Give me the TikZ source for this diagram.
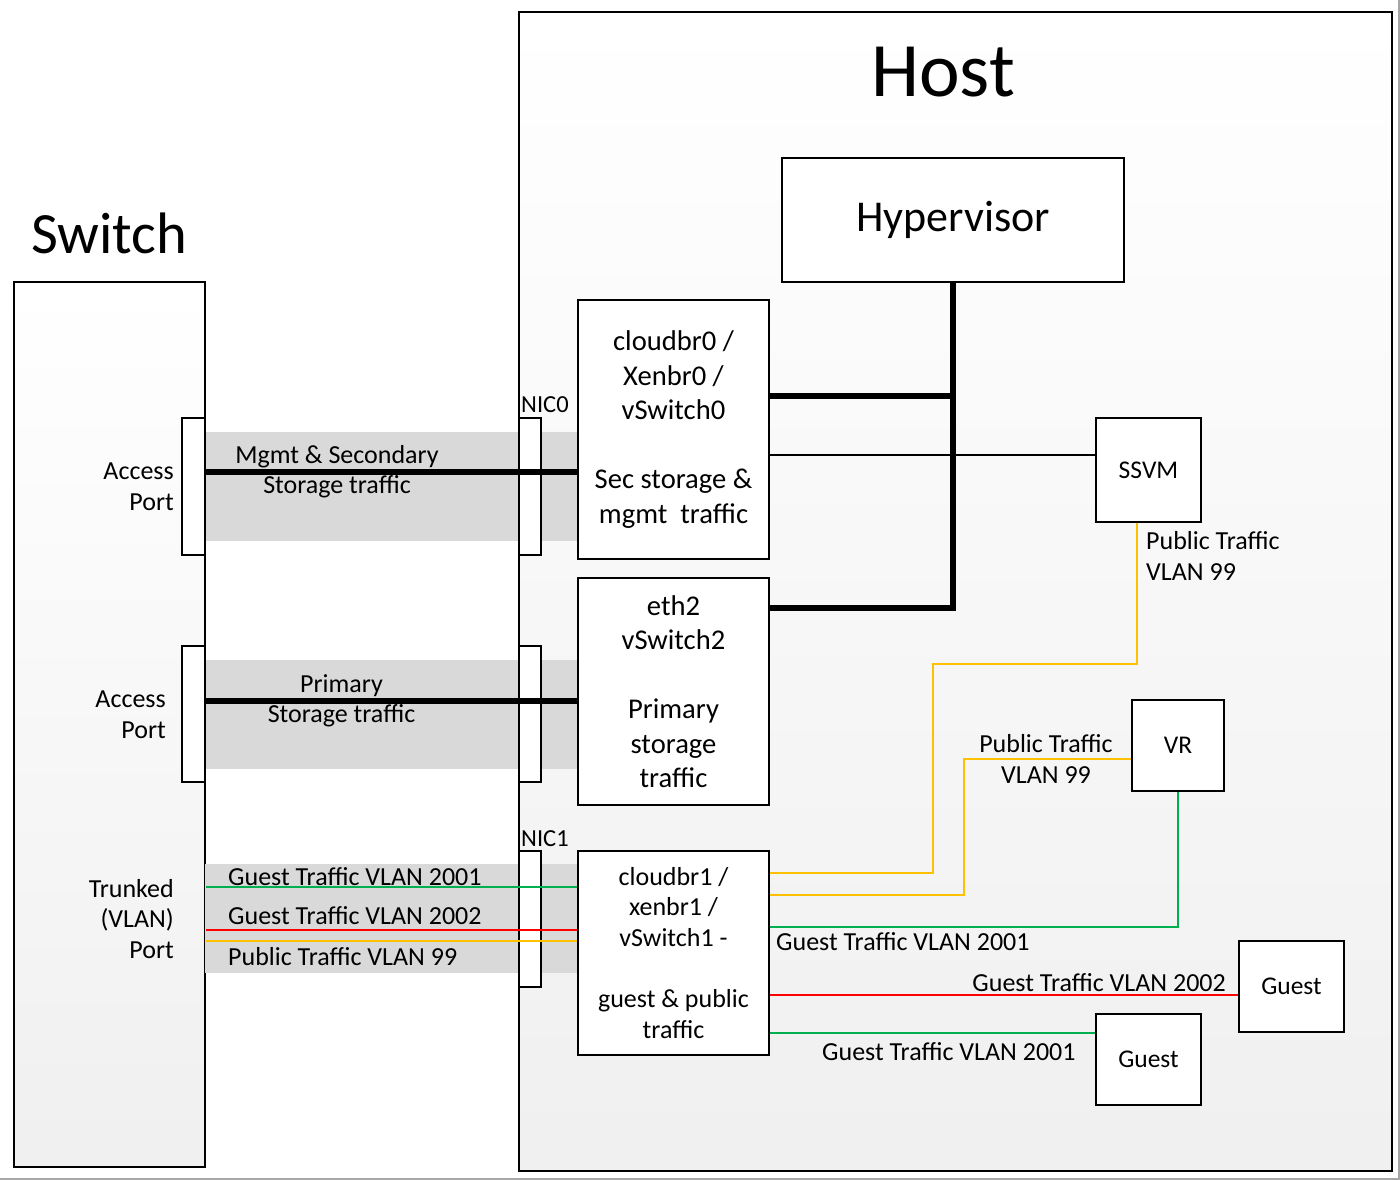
\documentclass[tikz,border=0pt]{standalone}
\usepackage{fontspec}
\setmainfont{Carlito}
\definecolor{bandgray}{HTML}{D9D9D9}
\definecolor{ylw}{HTML}{FFC000}
\definecolor{grn}{HTML}{00B050}
\definecolor{rd}{HTML}{FF0000}
\newcommand{\fsz}[2]{\fontsize{#1}{#2}\selectfont}
\begin{document}
\begin{tikzpicture}[x=1pt,y=-1pt,
  frame/.style={draw=black, line width=2pt, rectangle, inner sep=0pt, top color=white, bottom color=black!6},
  box/.style={draw=black, line width=2.4pt, fill=white, rectangle, inner sep=0pt, align=center},
  port/.style={draw=black, line width=2pt, fill=white, rectangle, inner sep=0pt, minimum width=22pt},
  bandbox/.style={fill=bandgray, rectangle, inner sep=0pt, minimum width=372pt, minimum height=109pt},
  lbl/.style={font=\fsz{26}{31}, inner sep=0pt},
  boxtxt/.style={font=\fsz{28.6}{34.5}},
  thickline/.style={line width=6.7pt, line join=miter},
  thinline/.style={line width=1.8pt},
  vlan/.style={line width=2.7pt}
]
\useasboundingbox (0,0) rectangle (1400,1180);
\fill[white] (0,0) rectangle (1400,1180);
\draw[gray!70, line width=2pt] (0,1179) -- (1399,1179) -- (1399,0);

% frames
\node[frame, minimum width=191pt, minimum height=885pt] (switch) at (109.5,724.5) {};
\node[frame, minimum width=873pt, minimum height=1159pt] (host) at (955.5,591.5) {};
\node[font=\fsz{58.5}{70}, inner sep=0pt, anchor=base] (switchT) at (109,253) {Switch};
\node[font=\fsz{77}{90}, inner sep=0pt, anchor=base] (hostT) at (943,97) {Host};

% bands
\node[bandbox] (band1) at (391,486.5) {};
\node[bandbox] (band2) at (391,714.5) {};
\node[bandbox] (band3) at (391,918.5) {};

% ports
\node[port, minimum width=23pt, minimum height=137pt] (ap1) at (193.5,486.5) {};
\node[port, minimum width=23pt, minimum height=136pt] (ap2) at (193.5,714) {};
\node[port, minimum height=137pt] (nic0) at (530,486.5) {};
\node[port, minimum height=136pt] (nicB) at (530,714) {};
\node[port, minimum height=136pt] (nic1) at (530,919) {};

% boxes
\node[box, font=\fsz{44}{50}, minimum width=342pt, minimum height=124pt] (hyp) at (953,220) {Hypervisor};
\node[box, boxtxt, minimum width=191pt, minimum height=259pt] (cb0) at (673.5,429.5)
  {cloudbr0 /\\Xenbr0 /\\vSwitch0\\\mbox{}\\Sec storage \&\\mgmt\ \ traffic};
\node[box, boxtxt, minimum width=191pt, minimum height=227pt] (eth2) at (673.5,691.5)
  {eth2\\vSwitch2\\\mbox{}\\Primary\\storage\\traffic};
\node[box, font=\fsz{26}{30.7}, minimum width=191pt, minimum height=204pt] (cb1) at (673.5,953)
  {cloudbr1 /\\xenbr1 /\\vSwitch1 -\\\mbox{}\\guest \& public\\traffic};
\node[box, font=\fsz{25.5}{30}, minimum width=105pt, minimum height=104pt] (ssvm) at (1148.5,470) {SSVM};
\node[box, font=\fsz{25.5}{30}, minimum width=92pt, minimum height=91pt] (vr) at (1178,745.5) {VR};
\node[box, font=\fsz{25.5}{30}, minimum width=105pt, minimum height=91pt] (guestA) at (1291.5,986.5) {Guest};
\node[box, font=\fsz{25.5}{30}, minimum width=105pt, minimum height=91pt] (guestB) at (1148.5,1059.5) {Guest};

% switch to host links
\draw[thickline] (ap1.east |- 0,472) -- (cb0.west |- 0,472);
\draw[thickline] (ap2.east |- 0,701) -- (eth2.west |- 0,701);
\draw[vlan, grn] (switch.east |- 0,887) -- (cb1.west |- 0,887);
\draw[vlan, rd] (switch.east |- 0,930) -- (cb1.west |- 0,930);
\draw[vlan, ylw] (switch.east |- 0,941) -- (cb1.west |- 0,941);

% hypervisor trunk
\draw[thickline] (cb0.east |- 0,396) -| (hyp.south);
\draw[thickline] (eth2.east |- 0,608) -| (hyp.south);

% SSVM
\draw[thinline] (cb0.east |- 0,455) -- (ssvm.west |- 0,455);
\draw[vlan, ylw] (1137,0 |- ssvm.south) -- (1137,664) -- (933,664) -- (933,873) -- (cb1.east |- 0,873);

% VR
\draw[vlan, ylw] (vr.west |- 0,759) -- (964,759) -- (964,895) -- (cb1.east |- 0,895);
\draw[vlan, grn] (vr.south) |- (cb1.east |- 0,927);

% guests
\draw[vlan, rd] (cb1.east |- 0,995) -- (guestA.west |- 0,995);
\draw[vlan, grn] (cb1.east |- 0,1033) -- (guestB.west |- 0,1033);

% labels
\node[lbl, align=right, anchor=east] (lap1) at (174,486.5) {Access\\Port};
\node[lbl, align=right, anchor=east] (lap2) at (166,715) {Access\\Port};
\node[lbl, align=right, anchor=east, font=\fsz{26}{30.5}] (ltr) at (174,919) {Trunked\\(VLAN)\\Port};
\node[lbl, align=center, font=\fsz{26}{30.3}] (lmg) at (337,471.5) {Mgmt \& Secondary\\Storage traffic};
\node[lbl, align=center, font=\fsz{26}{30}] (lpr) at (341.5,701) {Primary\\Storage traffic};
\node[lbl, anchor=base west] (lg1) at (228,885) {Guest Traffic VLAN 2001};
\node[lbl, anchor=base west] (lg2) at (228,924) {Guest Traffic VLAN 2002};
\node[lbl, anchor=base west] (lpub) at (228,965.7) {Public Traffic VLAN 99};
\node[lbl, anchor=base west, font=\fsz{24.5}{30}] (lnic0) at (521,412) {NIC0};
\node[lbl, anchor=base west, font=\fsz{24.5}{30}] (lnic1) at (521,846) {NIC1};
\node[lbl, align=left, anchor=west] (lssvm) at (1146,556) {Public Traffic\\VLAN 99};
\node[lbl, align=center] (lvr) at (1046,758.5) {Public Traffic\\VLAN 99};
\node[lbl, anchor=base west] (lvrg) at (776,950.7) {Guest Traffic VLAN 2001};
\node[lbl, anchor=base east] (lgA) at (1226,991.7) {Guest Traffic VLAN 2002};
\node[lbl, anchor=base west] (lgB) at (822,1060) {Guest Traffic VLAN 2001};
\end{tikzpicture}
\end{document}
